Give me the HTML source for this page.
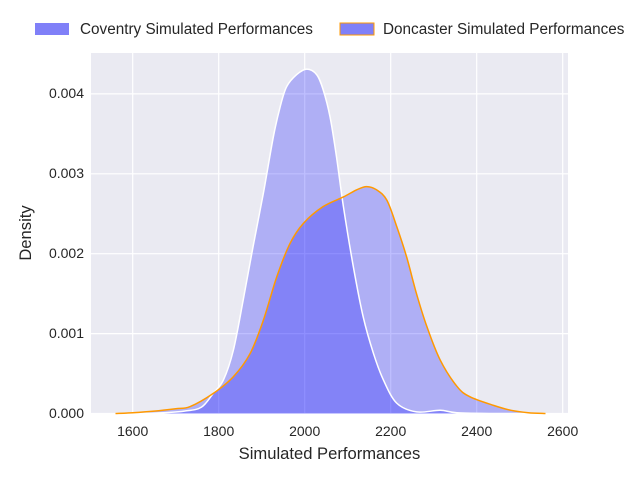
<!DOCTYPE html>
<html><head><style>body{margin:0;background:#fff}svg{font-family:"Liberation Sans",sans-serif}</style></head>
<body>
<svg id="s" width="640" height="480" xmlns="http://www.w3.org/2000/svg">
<rect x="91" y="53" width="477" height="361" fill="#eaeaf2"/>
<g stroke="#fff" stroke-width="1.2">
<line x1="132.7" y1="53" x2="132.7" y2="414"/><line x1="218.7" y1="53" x2="218.7" y2="414"/>
<line x1="304.7" y1="53" x2="304.7" y2="414"/><line x1="390.7" y1="53" x2="390.7" y2="414"/>
<line x1="476.7" y1="53" x2="476.7" y2="414"/><line x1="562.7" y1="53" x2="562.7" y2="414"/>
<line x1="91" y1="413.5" x2="568" y2="413.5"/><line x1="91" y1="333.6" x2="568" y2="333.6"/>
<line x1="91" y1="253.7" x2="568" y2="253.7"/><line x1="91" y1="173.8" x2="568" y2="173.8"/>
<line x1="91" y1="93.9" x2="568" y2="93.9"/>
</g>
<g id="curves"></g>
<g font-size="14" fill="#262626">
<text x="84" y="418" text-anchor="end">0.000</text><text x="84" y="338" text-anchor="end">0.001</text>
<text x="84" y="258" text-anchor="end">0.002</text><text x="84" y="178" text-anchor="end">0.003</text>
<text x="84" y="98" text-anchor="end">0.004</text>
<text x="132.7" y="436" text-anchor="middle">1600</text><text x="218.7" y="436" text-anchor="middle">1800</text>
<text x="304.7" y="436" text-anchor="middle">2000</text><text x="390.7" y="436" text-anchor="middle">2200</text>
<text x="476.7" y="436" text-anchor="middle">2400</text><text x="562.7" y="436" text-anchor="middle">2600</text>
<text x="329.5" y="459" text-anchor="middle" font-size="16.6">Simulated Performances</text>
<text transform="translate(31,233) rotate(-90)" text-anchor="middle" font-size="16.6">Density</text>
<rect x="35" y="23" width="34" height="12" fill="#8080f8"/>
<text x="80" y="34" font-size="15.3">Coventry Simulated Performances</text>
<rect x="340" y="23" width="34" height="12" fill="#8080f8" stroke="#ff9900" stroke-width="1"/>
<text x="383" y="34" font-size="15.3">Doncaster Simulated Performances</text>
</g>
</svg>
<script>
function X(x){return 132.7+(x-1600)*0.43}function Y(d){return 413.5-d*79900}
var cov=[[1560,0],[1650,.000005],[1720,.00003],[1760,.00008],[1787,.00025],[1811,.00042],[1834,.00079],[1857,.00142],[1880,.00209],[1904,.00276],[1927,.00346],[1943,.00384],[1958,.00409],[1981,.00424],[2005,.00431],[2028,.00424],[2043,.00405],[2059,.00371],[2074,.00321],[2090,.00259],[2113,.00184],[2136,.00121],[2160,.00075],[2183,.00042],[2214,.00013],[2260,.00002],[2315,.00004],[2354,.00001],[2450,0],[2560,0]];
var don=[[1560,0],[1600,.00001],[1650,.00003],[1700,.00006],[1733,.000085],[1787,.00025],[1834,.00046],[1873,.00075],[1904,.00117],[1935,.00171],[1966,.00213],[1997,.00238],[2043,.00259],[2090,.00271],[2121,.0028],[2144,.00284],[2167,.0028],[2191,.00267],[2214,.00234],[2237,.00196],[2260,.0015],[2284,.00109],[2315,.00067],[2354,.00034],[2384,.00021],[2440,.0001],[2480,.00004],[2520,.00001],[2560,0]];
function path(p){p=p.map(function(a){return[X(a[0]),Y(a[1])]});var s="M"+p[0][0]+","+p[0][1];
for(var i=0;i<p.length-1;i++){var p0=p[i-1]||p[i],p1=p[i],p2=p[i+1],p3=p[i+2]||p2;
s+="C"+(p1[0]+(p2[0]-p0[0])/6)+","+(p1[1]+(p2[1]-p0[1])/6)+" "+(p2[0]-(p3[0]-p1[0])/6)+","+(p2[1]-(p3[1]-p1[1])/6)+" "+p2[0]+","+p2[1];}return s}
var g=document.getElementById("curves");
g.innerHTML='<path d="'+path(cov)+'Z" fill="rgba(0,0,255,0.25)"/><path d="'+path(don)+'Z" fill="rgba(0,0,255,0.25)"/>'+
'<path d="'+path(cov)+'" fill="none" stroke="#fff" stroke-width="1.5"/><path d="'+path(don)+'" fill="none" stroke="#ff9900" stroke-width="1.5"/>';
</script>
</body></html>
